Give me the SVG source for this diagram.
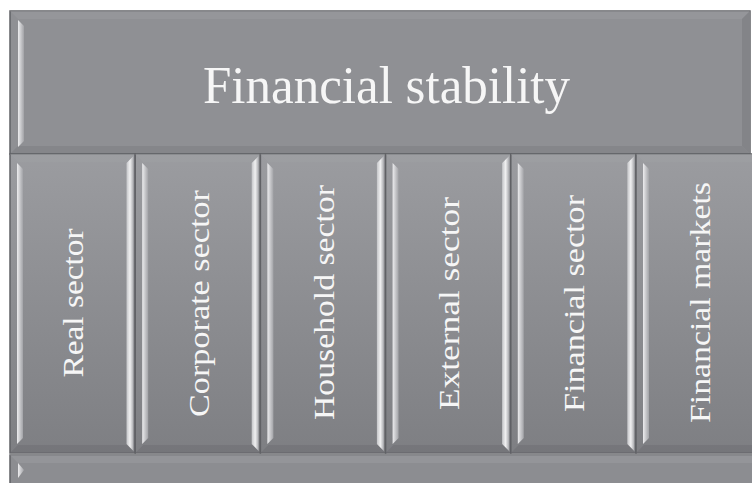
<svg xmlns="http://www.w3.org/2000/svg" width="752" height="483" viewBox="0 0 752 483">
<defs>
<linearGradient id="colFace" x1="0" y1="0" x2="0" y2="1">
<stop offset="0" stop-color="#9b9ca0"/>
<stop offset="1" stop-color="#7e7f83"/>
</linearGradient>
<linearGradient id="hlL" x1="0" y1="0" x2="1" y2="0">
<stop offset="0" stop-color="#ececee"/>
<stop offset="1" stop-color="#a2a3a7"/>
</linearGradient>
<linearGradient id="hlR" x1="0" y1="0" x2="1" y2="0">
<stop offset="0" stop-color="#c4c5c8"/>
<stop offset="0.5" stop-color="#f0f0f1"/>
<stop offset="1" stop-color="#a8a9ad"/>
</linearGradient>
<g id="bevel">
<rect x="0" y="0" width="125.2" height="299" fill="url(#colFace)" stroke="#606165" stroke-width="1.5"/>
<polygon points="0,0 125.2,0 117,8 8,8" fill="#9fa0a4" opacity="0.6"/>
<polygon points="0,299 125.2,299 117,291 8,291" fill="#6f7074" opacity="0.6"/>
<polygon points="7,9 13,15 13,284 7,290" fill="url(#hlL)"/>
<polygon points="123.5,2 123.5,297 116.5,290 116.5,9" fill="url(#hlR)"/>
</g>
</defs>
<style>
.t{font-family:"Liberation Serif","DejaVu Serif",serif;fill:#f6f6f6;}
.col{font-size:30px;text-anchor:middle;}
</style>
<rect width="752" height="483" fill="#ffffff"/>
<g id="connectors"></g>
<g id="top">
<rect x="10" y="11" width="740" height="143" fill="#8f9094" stroke="#606165" stroke-width="1.5"/>
<polygon points="10,11 750,11 742,19 18,19" fill="#9a9b9f" opacity="0.6"/>
<polygon points="10,154 750,154 742,146 18,146" fill="#7f8084" opacity="0.6"/>
<polygon points="750,11 742,19 742,146 750,154" fill="#838488"/>
<polygon points="18,20 24,26 24,141 18,147" fill="url(#hlL)"/>
<text class="t" x="386.5" y="103" font-size="52" text-anchor="middle" textLength="367" lengthAdjust="spacingAndGlyphs">Financial stability</text>
</g>
<g id="c1"><use href="#bevel" x="10" y="154"/><text class="t col" transform="translate(83,303) rotate(-90)" textLength="149" lengthAdjust="spacingAndGlyphs">Real sector</text></g>
<g id="c2"><use href="#bevel" x="135.2" y="154"/><text class="t col" transform="translate(208.5,303.5) rotate(-90)" textLength="227" lengthAdjust="spacingAndGlyphs">Corporate sector</text></g>
<g id="c3"><use href="#bevel" x="260.4" y="154"/><text class="t col" transform="translate(333.5,302.5) rotate(-90)" textLength="235" lengthAdjust="spacingAndGlyphs">Household sector</text></g>
<g id="c4"><use href="#bevel" x="385.6" y="154"/><text class="t col" transform="translate(459,303.5) rotate(-90)" textLength="213" lengthAdjust="spacingAndGlyphs">External sector</text></g>
<g id="c5"><use href="#bevel" x="510.8" y="154"/><text class="t col" transform="translate(584,303.5) rotate(-90)" textLength="217" lengthAdjust="spacingAndGlyphs">Financial sector</text></g>
<g id="c6"><use href="#bevel" x="636" y="154"/><text class="t col" transform="translate(710,302.5) rotate(-90)" textLength="241" lengthAdjust="spacingAndGlyphs">Financial markets</text></g>
<g id="bottom">
<rect x="10" y="455" width="760" height="40" fill="#8c8d91" stroke="#606165" stroke-width="1.5"/>
<polygon points="10,455 770,455 762,463 18,463" fill="#9a9b9f" opacity="0.6"/>
<polygon points="18,463 24,470 18,478" fill="url(#hlL)"/>
</g>
</svg>
